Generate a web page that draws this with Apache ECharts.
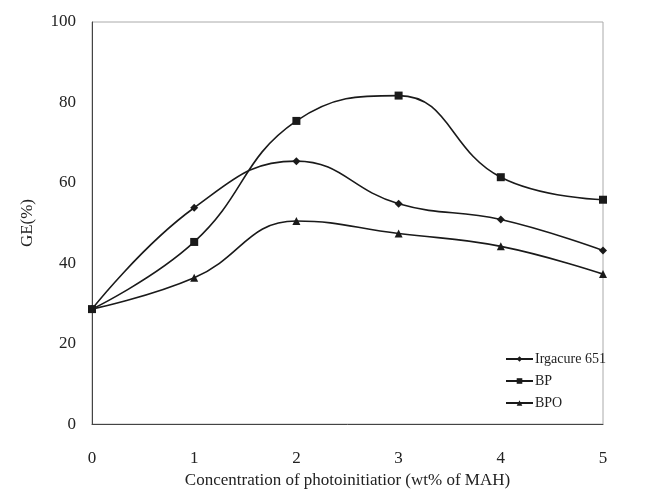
<!DOCTYPE html>
<html>
<head>
<meta charset="utf-8">
<script src="https://cdn.jsdelivr.net/npm/echarts@6/dist/echarts.min.js"></script>
<style>html,body{margin:0;padding:0;background:#fff}#c{width:648px;height:494px}</style>
</head>
<body>
<div id="c"></div>
<script>
const xValues = [0, 1, 2, 3, 4, 5];
const irgacure = [28.6, 53.8, 65.4, 54.8, 50.9, 43.2];
const bp = [28.6, 45.3, 75.4, 81.7, 61.4, 55.8];
const bpo = [28.6, 36.4, 50.5, 47.4, 44.2, 37.3];
const seriesNames = ['Irgacure 651', 'BP', 'BPO'];
const yTicks = [0, 20, 40, 60, 80, 100];

const pairs = arr => xValues.map((x, i) => [x, arr[i]]);
const font = 'Liberation Serif, Times New Roman, serif';
const lineColor = '#1a1a1a';
function mk(name, data, symbol, size) {
  return {
    name, type: 'line', data: pairs(data), smooth: 0.45,
    symbol, symbolSize: size,
    lineStyle: {color: lineColor, width: 1.6},
    itemStyle: {color: lineColor},
    emphasis: {disabled: true}
  };
}
const chart = echarts.init(document.getElementById('c'));
chart.setOption({
  animation: false,
  backgroundColor: '#fff',
  grid: {left: 92, right: 45, top: 22, bottom: 67, show: true, borderColor: '#aaa', borderWidth: 1},
  xAxis: {
    type: 'value', min: 0, max: 5, interval: 1,
    name: 'Concentration of photoinitiatior (wt% of MAH)',
    nameLocation: 'middle', nameGap: 46,
    nameTextStyle: {fontFamily: font, fontSize: 17, color: '#222'},
    axisLine: {show: true, onZero: false, lineStyle: {color: '#444', width: 1}},
    axisTick: {show: false},
    splitLine: {show: false},
    axisLabel: {fontFamily: font, fontSize: 17, color: '#222', margin: 26}
  },
  yAxis: {
    type: 'value', min: 0, max: 100, interval: 20,
    name: 'GE(%)', nameLocation: 'middle', nameGap: 56,
    nameTextStyle: {fontFamily: font, fontSize: 17, color: '#222'},
    axisLine: {show: true, lineStyle: {color: '#444', width: 1}},
    axisTick: {show: false},
    splitLine: {show: false},
    axisLabel: {fontFamily: font, fontSize: 17, color: '#222', margin: 16,
      formatter: v => yTicks.includes(v) ? String(v) : ''}
  },
  legend: {
    orient: 'vertical', left: 500, top: 347, itemGap: 8,
    itemWidth: 27, itemHeight: 7,
    data: seriesNames,
    textStyle: {fontFamily: font, fontSize: 14, color: '#222', padding: [0, 0, 0, -3]}
  },
  series: [
    mk(seriesNames[0], irgacure, 'diamond', 8),
    mk(seriesNames[1], bp, 'rect', 8),
    mk(seriesNames[2], bpo, 'triangle', 8)
  ]
});
</script>
</body>
</html>
